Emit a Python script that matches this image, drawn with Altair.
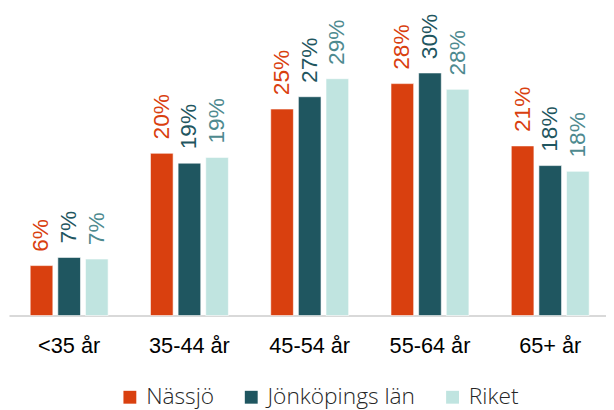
import altair as alt
import pandas as pd

categories = ["<35 år", "35-44 år", "45-54 år", "55-64 år", "65+ år"]
series = ["Nässjö", "Jönköpings län", "Riket"]
nassjo = [6.1, 19.8, 25.2, 28.3, 20.7]
jonkoping = [7.1, 18.6, 26.7, 29.6, 18.3]
riket = [6.9, 19.3, 28.9, 27.6, 17.6]

bar_colors = ["#d9400f", "#1f5660", "#c0e4e0"]
label_colors = ["#d9400f", "#1f5660", "#4e8a8f"]

rows = []
for s, vals in zip(series, [nassjo, jonkoping, riket]):
    for c, v in zip(categories, vals):
        rows.append({"kategori": c, "serie": s, "värde": v, "etikett": f"{round(v):.0f}%"})
df = pd.DataFrame(rows)

x = alt.X("kategori:N", sort=categories, title=None,
          scale=alt.Scale(paddingInner=0.352, paddingOuter=0.158, align=0.558),
          axis=alt.Axis(labelAngle=0, ticks=False, domainColor="#d9d9d9", domainWidth=2,
                        labelFontSize=22, labelFont="Liberation Sans", labelColor="#000000",
                        labelPadding=20, grid=False))
xo = alt.XOffset("serie:N", sort=series, scale=alt.Scale(paddingInner=0.18, paddingOuter=0))
y = alt.Y("värde:Q", scale=alt.Scale(domain=[0, 37.2], nice=False, zero=True), axis=None)

base = alt.Chart(df)

bars = base.mark_bar(stroke="white", strokeWidth=0.6).encode(
    x=x, xOffset=xo, y=y,
    color=alt.Color("serie:N", sort=series,
                    scale=alt.Scale(domain=series, range=bar_colors),
                    legend=alt.Legend(title=None, orient="none", direction="horizontal",
                                      legendX=111, legendY=380,
                                      symbolType="square", symbolSize=170, symbolStrokeWidth=0,
                                      labelFontSize=23, labelFont="Open Sans", labelFontWeight=300,
                                      labelColor="#262626",
                                      columnPadding=26, symbolOffset=0, labelOffset=5)),
)

labels = base.mark_text(angle=270, align="left", baseline="middle", dx=14,
                        fontSize=23, font="Liberation Sans").encode(
    x=x, xOffset=xo, y=y,
    text="etikett:N",
    color=alt.Color("serie:N", sort=series,
                    scale=alt.Scale(domain=series, range=label_colors), legend=None),
)

chart = alt.layer(bars, labels).resolve_scale(color="independent").properties(
    width=605, height=309,
    padding={"left": 1, "right": 0, "top": 0, "bottom": 0},
).configure_view(stroke=None)

chart.save("out.html", embed_options={"renderer": "svg", "actions": False})
